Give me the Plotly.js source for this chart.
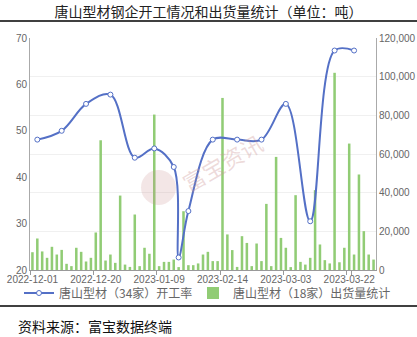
<!DOCTYPE html>
<html>
<head>
<meta charset="utf-8">
<script src="https://cdn.plot.ly/plotly-3.0.1.min.js"></script>
<style>
html,body{margin:0;padding:0;background:#fff;}
#chart{width:417px;height:337px;}
</style>
</head>
<body>
<div id="chart"></div>
<script>
// Categories (trading days)
const dates = ["2022-12-01","2022-12-02","2022-12-05","2022-12-06","2022-12-07","2022-12-08","2022-12-09","2022-12-12","2022-12-13","2022-12-14","2022-12-15","2022-12-16","2022-12-19","2022-12-20","2022-12-21","2022-12-22","2022-12-23","2022-12-26","2022-12-27","2022-12-28","2022-12-29","2022-12-30","2023-01-03","2023-01-04","2023-01-05","2023-01-06","2023-01-09","2023-01-10","2023-01-11","2023-01-12","2023-01-13","2023-02-02","2023-02-03","2023-02-06","2023-02-07","2023-02-08","2023-02-09","2023-02-10","2023-02-13","2023-02-14","2023-02-15","2023-02-16","2023-02-17","2023-02-20","2023-02-21","2023-02-22","2023-02-23","2023-02-24","2023-02-27","2023-02-28","2023-03-01","2023-03-02","2023-03-03","2023-03-06","2023-03-07","2023-03-08","2023-03-09","2023-03-10","2023-03-13","2023-03-14","2023-03-15","2023-03-16","2023-03-17","2023-03-20","2023-03-21","2023-03-22","2023-03-23","2023-03-24","2023-03-27","2023-03-28","2023-03-29"];

// 出货量统计 (吨)
const shipments = [9200,16300,9600,6300,12000,8000,10400,3200,2000,11500,9400,4400,6300,19400,67100,4900,8000,3700,38500,2800,1600,28700,2000,11500,8400,80400,2000,4200,4200,5400,1500,30400,2500,2500,3400,8000,9400,4600,4600,89000,18400,10300,1600,17500,14000,2000,13700,4600,34200,2000,58500,16600,11500,1500,38700,4200,2800,6300,41300,13200,5100,3400,102000,4000,11500,65400,8000,49400,20100,8000,5400];

// 开工率 (%)
const rateDates = ["2022-12-02","2022-12-09","2022-12-16","2022-12-23","2022-12-30","2023-01-06","2023-01-12","2023-01-13","2023-02-03","2023-02-10","2023-02-17","2023-02-24","2023-03-03","2023-03-10","2023-03-17","2023-03-23"];
const rate = [48.1,50.0,55.8,57.8,44.2,46.2,42.2,22.7,32.7,48.1,48.1,48.1,55.8,30.5,67.3,67.3];

const tickLabels = ["2022-12-01","2022-12-20","2023-01-09","2023-02-14","2023-03-03","2023-03-22"];

const seriesNames = ["唐山型材（34家）开工率","唐山型材（18家）出货量统计"];

const FONT = '"Noto Sans CJK SC","Noto Sans",sans-serif';
const NUMFONT = '"Liberation Sans","Noto Sans",sans-serif';
const blue = '#5470c6';
const green = '#91cc75';

const traces = [
  {
    type: 'scatter', mode: 'lines+markers',
    name: seriesNames[0],
    x: rateDates, y: rate, yaxis: 'y2',
    line: {color: blue, width: 2, shape: 'spline', smoothing: 1},
    marker: {symbol: 'circle', size: 5, color: '#fff', line: {color: blue, width: 1}},
    legend: 'legend'
  },
  {
    type: 'bar',
    name: seriesNames[1],
    x: dates, y: shipments, yaxis: 'y',
    marker: {color: green},
    legend: 'legend2'
  }
];

// plot area: x 30..376, y 38..270
const L = 30, R = 376, T = 38, B = 270;
const px = v => (v - L) / (R - L);
const py = v => (B - v) / (B - T);

const legendBase = {
  orientation: 'h',
  xref: 'container', yref: 'container',
  xanchor: 'left',
  y: 1 - 293 / 337, yanchor: 'middle',
  font: {size: 12, color: '#666', family: FONT},
  itemwidth: 30,
  bgcolor: 'rgba(0,0,0,0)'
};

const layout = {
  width: 417, height: 337,
  margin: {l: L, r: 417 - R, t: T, b: 337 - B, autoexpand: false},
  paper_bgcolor: '#fff', plot_bgcolor: '#fff',
  font: {family: FONT, color: '#666', size: 11},
  showlegend: true,
  bargap: 0.48,
  title: {
    text: '唐山型材钢企开工情况和出货量统计（单位：吨）',
    font: {family: FONT, size: 14, color: '#222'},
    x: 0.5, xanchor: 'center', xref: 'container',
    y: 1 - 12.5 / 337, yanchor: 'middle', yref: 'container'
  },
  xaxis: {
    type: 'category',
    categoryorder: 'array', categoryarray: dates,
    range: [-0.5, dates.length - 0.5],
    tickmode: 'array', tickvals: tickLabels, ticktext: tickLabels,
    tickson: 'boundaries', tickangle: 0,
    ticks: 'outside', ticklen: 4, tickcolor: '#999', tickwidth: 1,
    showline: true, linecolor: '#999', linewidth: 1,
    showgrid: false, zeroline: false,
    tickfont: {size: 10, color: '#666', family: NUMFONT},
    fixedrange: true, automargin: false
  },
  yaxis: {
    side: 'right',
    range: [0, 120000], dtick: 20000, tick0: 0,
    tickformat: ',d',
    showline: true, linecolor: '#aaa', linewidth: 1,
    showgrid: true, gridcolor: '#f0f0f0', gridwidth: 1,
    zeroline: false, ticks: '',
    tickfont: {size: 10, color: '#666', family: NUMFONT},
    fixedrange: true, automargin: false
  },
  yaxis2: {
    overlaying: 'y', side: 'left',
    range: [20, 70], dtick: 10, tick0: 20,
    showline: true, linecolor: '#aaa', linewidth: 1,
    showgrid: false, zeroline: false, ticks: '',
    tickfont: {size: 10, color: '#666', family: NUMFONT},
    fixedrange: true, automargin: false
  },
  legend: Object.assign({}, legendBase, {x: 19 / 417}),
  legend2: Object.assign({}, legendBase, {x: 193 / 417}),
  shapes: [
    {type: 'line', xref: 'paper', yref: 'paper', x0: px(0), x1: px(417), y0: py(21), y1: py(21), line: {color: '#000', width: 1.5}},
    {type: 'line', xref: 'paper', yref: 'paper', x0: px(0), x1: px(417), y0: py(306), y1: py(306), line: {color: '#000', width: 1.5}},
    {type: 'circle', xref: 'paper', yref: 'paper', x0: px(141), x1: px(176), y0: py(205), y1: py(170), fillcolor: 'rgba(200,140,140,0.22)', line: {width: 0}, layer: 'above'}
  ],
  annotations: [
    {text: '资料来源：富宝数据终端', xref: 'paper', yref: 'paper', x: px(16), y: py(326), xanchor: 'left', yanchor: 'middle', showarrow: false, font: {family: FONT, size: 14, color: '#111'}},
    {text: '富宝资讯', xref: 'paper', yref: 'paper', x: px(222), y: py(162), xanchor: 'center', yanchor: 'middle', showarrow: false, textangle: -30, font: {family: FONT, size: 22, color: 'rgba(205,150,150,0.35)'}}
  ]
};

Plotly.newPlot('chart', traces, layout, {displayModeBar: false, staticPlot: true});
</script>
</body>
</html>
